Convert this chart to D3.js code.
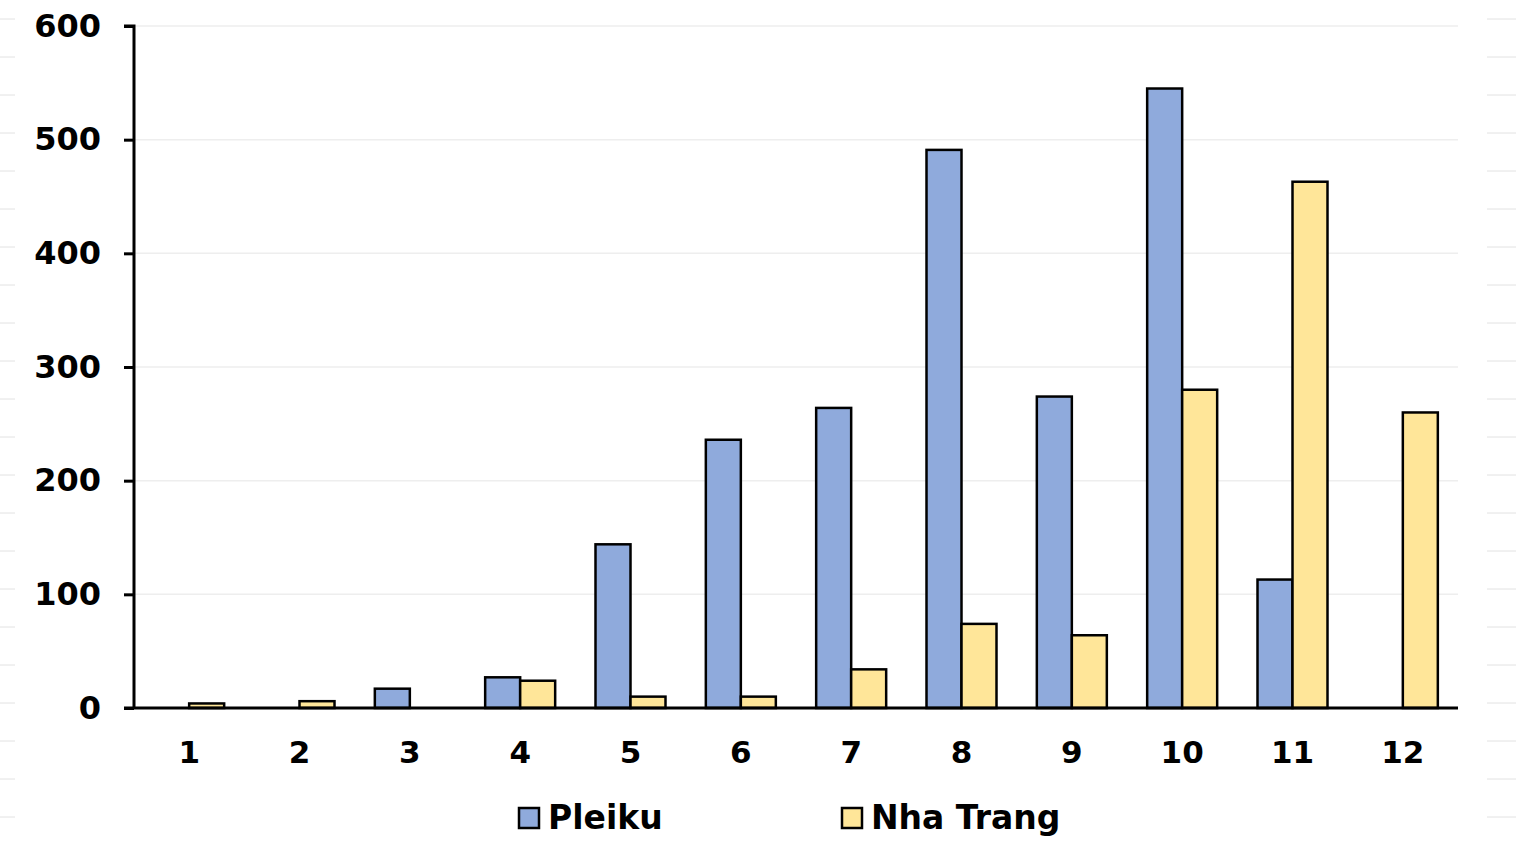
<!DOCTYPE html>
<html>
<head>
<meta charset="utf-8">
<script src="https://cdn.jsdelivr.net/npm/d3@7"></script>
<style>
  body { margin: 0; background: #fff; }
  text { font-family: "DejaVu Sans", sans-serif; font-weight: bold; }
</style>
</head>
<body>
<script>
var months = ["1", "2", "3", "4", "5", "6", "7", "8", "9", "10", "11", "12"];
var seriesNames = ["Pleiku", "Nha Trang"];
var pleiku = [0, 0, 17, 27, 144, 236, 264, 491, 274, 545, 113, 0];
var nhaTrang = [4, 6, 0, 24, 10, 10, 34, 74, 64, 280, 463, 260];
var yTicks = [0, 100, 200, 300, 400, 500, 600];
var colors = ["#8faadc", "#ffe699"];

var svgWidth = 1516;
var svgHeight = 848;
var plotLeft = 134, plotRight = 1458, plotTop = 26, plotBottom = 708;

var svg = d3.select("body")
  .append("svg")
  .attr("width", svgWidth)
  .attr("height", svgHeight);

// faint side lines
var sideLines = d3.range(19, 830, 38);
[[0, 15], [1487, 1516]].forEach(function(xs) {
  svg.append("g").selectAll("line")
    .data(sideLines)
    .enter()
    .append("line")
    .attr("x1", xs[0]).attr("x2", xs[1])
    .attr("y1", function(d) { return d; })
    .attr("y2", function(d) { return d; })
    .style("stroke", "#e2e2e2")
    .style("stroke-width", 1);
});

var xScale = d3.scaleBand()
  .domain(months)
  .range([plotLeft, plotRight]);

var xInner = d3.scaleBand()
  .domain(seriesNames)
  .range([0, 70]);

var yScale = d3.scaleLinear()
  .domain([0, 600])
  .range([plotBottom, plotTop]);

// gridlines
svg.selectAll(".grid")
  .data(yTicks.slice(1))
  .enter()
  .append("line")
  .attr("x1", plotLeft)
  .attr("x2", plotRight)
  .attr("y1", function(d) { return yScale(d); })
  .attr("y2", function(d) { return yScale(d); })
  .style("stroke", "#eeeeee")
  .style("stroke-width", 1.5);

var series = [pleiku, nhaTrang];
series.forEach(function(vals, s) {
  var rows = vals.map(function(v, i) { return { month: months[i], value: v }; })
    .filter(function(d) { return d.value > 0; });
  svg.append("g").selectAll("rect")
    .data(rows)
    .enter()
    .append("rect")
    .attr("x", function(d) {
      return xScale(d.month) + (xScale.bandwidth() - 70) / 2 + xInner(seriesNames[s]);
    })
    .attr("y", function(d) { return yScale(d.value); })
    .attr("width", xInner.bandwidth())
    .attr("height", function(d) { return yScale(0) - yScale(d.value); })
    .style("fill", colors[s])
    .style("stroke", "#000")
    .style("stroke-width", 2.5);
});

// y axis
var yAxis = svg.append("g")
  .attr("transform", "translate(" + plotLeft + ",0)")
  .call(d3.axisLeft(yScale).tickValues(yTicks).tickSize(10).tickPadding(23));
yAxis.select(".domain").style("stroke-width", 3).attr("d", "M-10," + plotTop + "H0V" + plotBottom);
yAxis.selectAll(".tick line").style("stroke-width", 3);
yAxis.selectAll("text").style("font-size", "32px").style("fill", "#000");

// x axis
var xAxis = svg.append("g")
  .attr("transform", "translate(0," + plotBottom + ")")
  .call(d3.axisBottom(xScale).tickSize(0).tickPadding(33));
xAxis.select(".domain").style("stroke-width", 3).attr("d", "M" + (plotLeft - 10) + ",0H" + plotRight);
xAxis.selectAll("text").style("font-size", "31px").style("fill", "#000");

// legend
var legendX = [519, 842];
var legend = svg.selectAll(".legend")
  .data(seriesNames)
  .enter()
  .append("g")
  .attr("transform", function(d, i) { return "translate(" + legendX[i] + ",808)"; });
legend.append("rect")
  .attr("width", 20).attr("height", 20)
  .style("fill", function(d, i) { return colors[i]; })
  .style("stroke", "#000")
  .style("stroke-width", 2.5);
legend.append("text")
  .attr("x", 29)
  .attr("y", 21)
  .style("font-size", "33px")
  .text(function(d) { return d; });
</script>
</body>
</html>
